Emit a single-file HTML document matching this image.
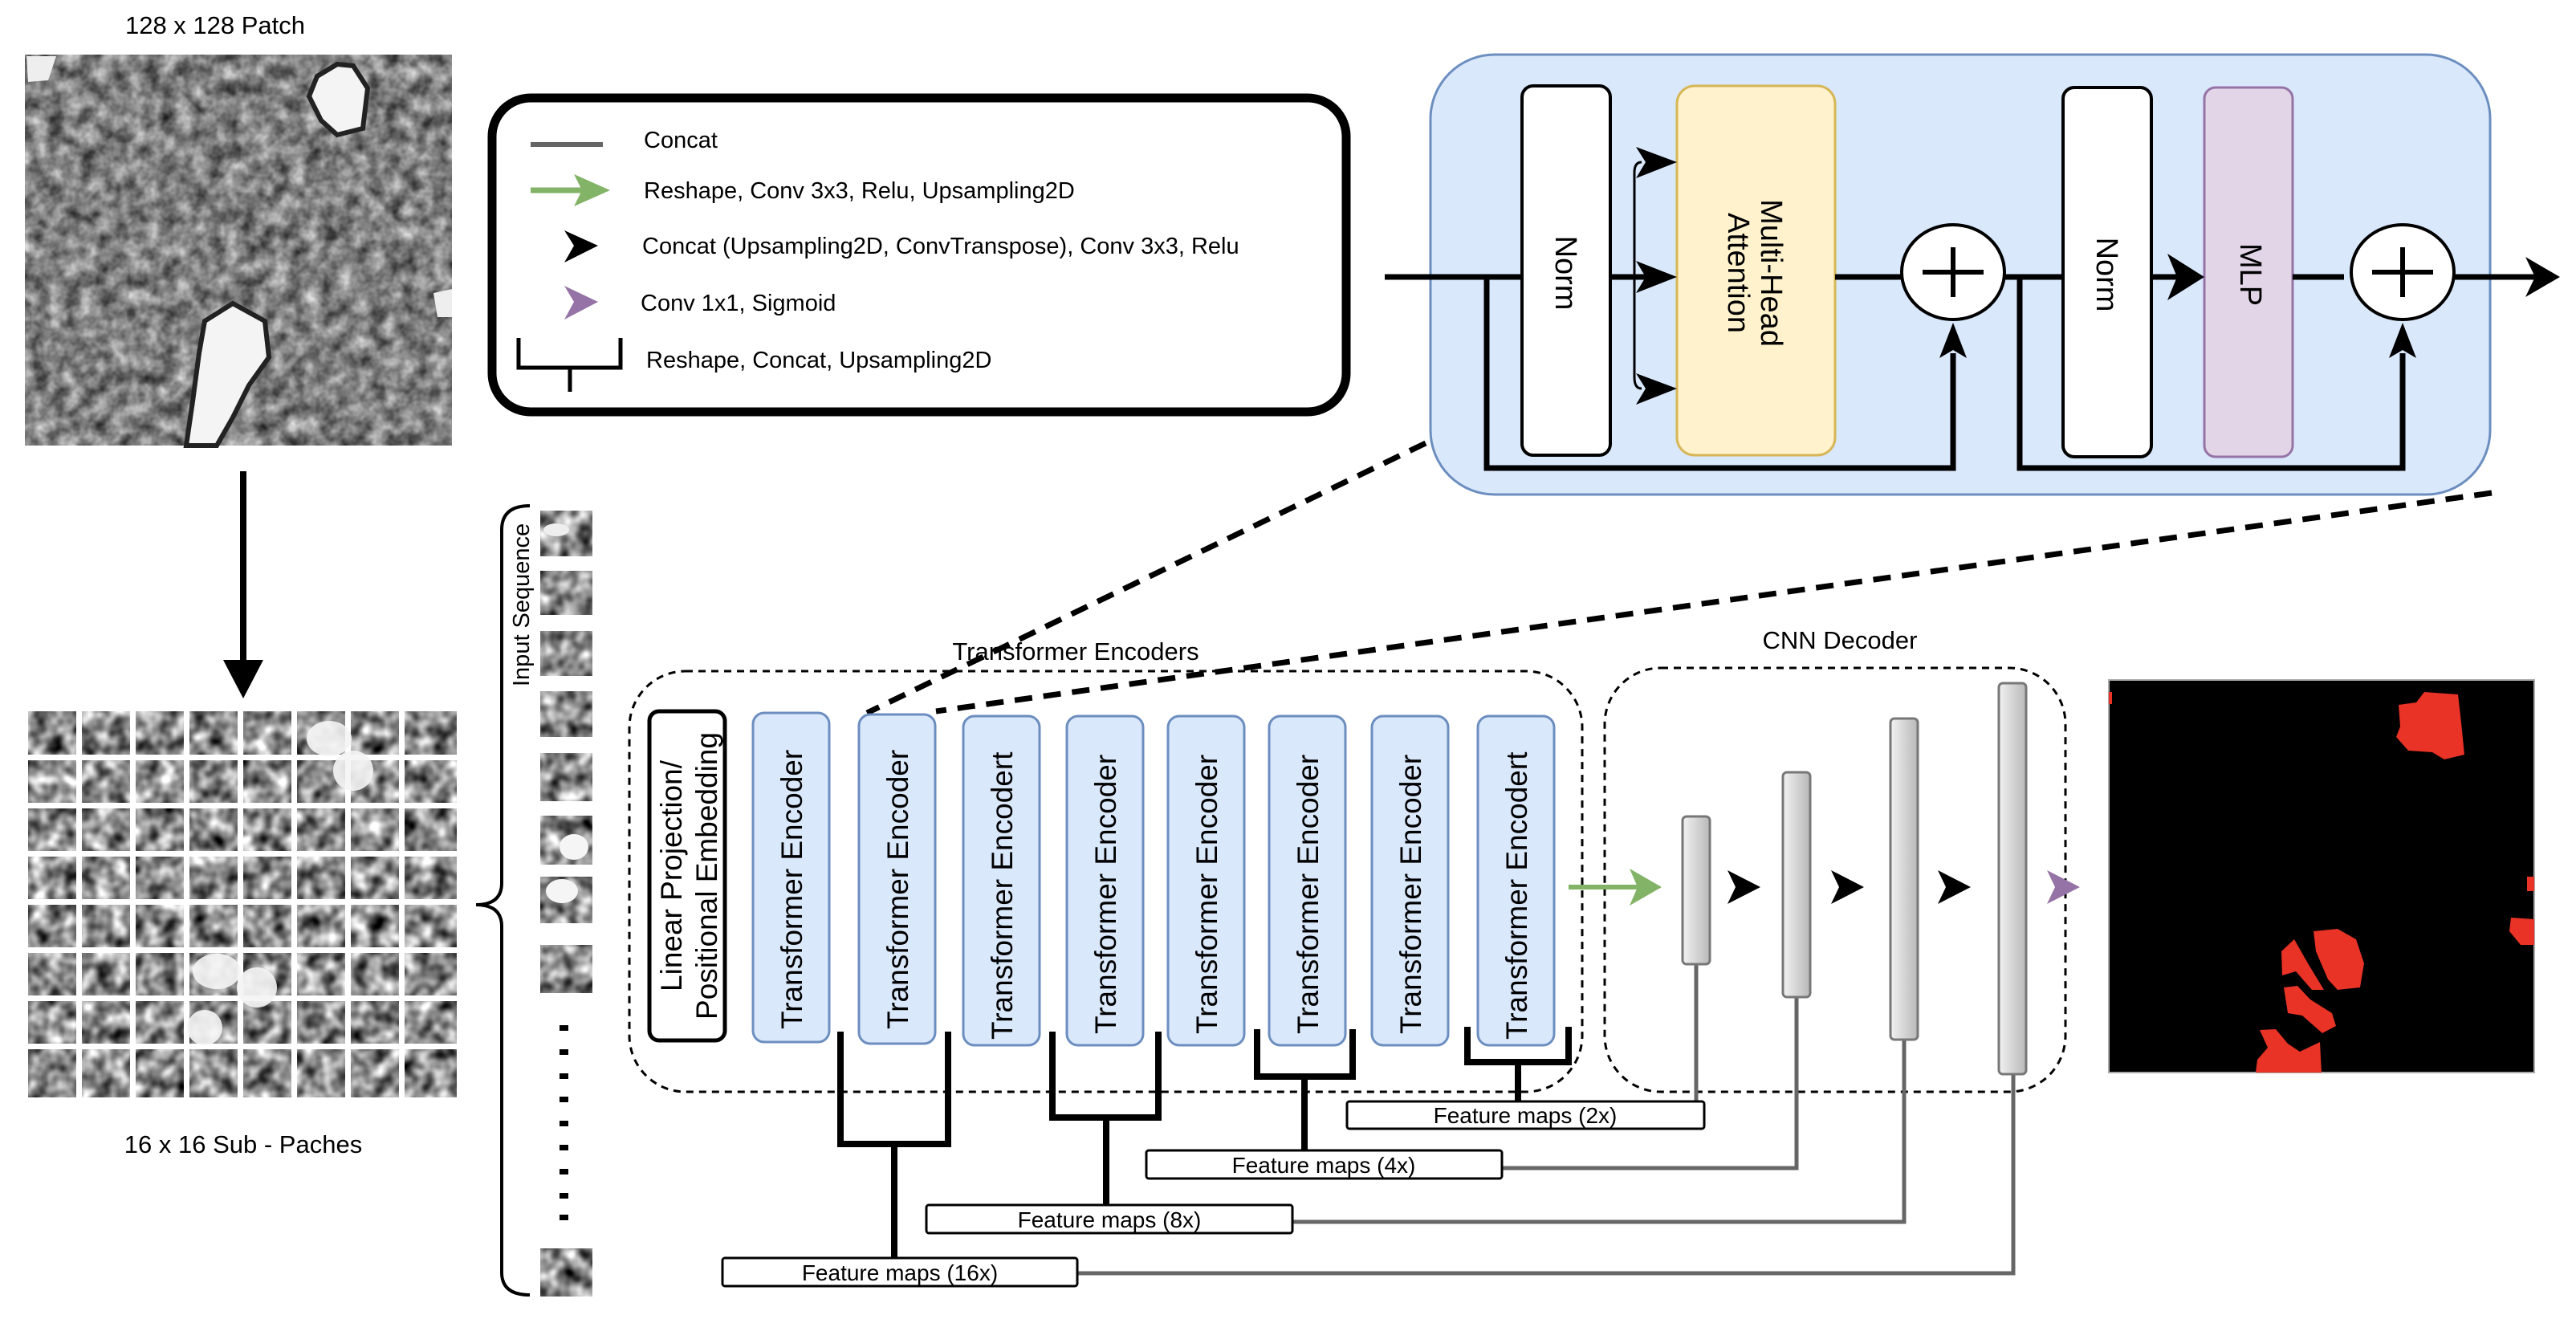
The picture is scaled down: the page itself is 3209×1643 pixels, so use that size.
<!DOCTYPE html>
<html><head><meta charset="utf-8"><style>
html,body{margin:0;padding:0;background:#fff}
svg{display:block}
text{font-family:"Liberation Sans",sans-serif}
</style></head><body>
<svg width="3209" height="1643" viewBox="0 0 3209 1643" xmlns="http://www.w3.org/2000/svg">
<defs>
<filter id="noise" x="0" y="0" width="100%" height="100%" filterUnits="objectBoundingBox" color-interpolation-filters="sRGB">
<feTurbulence type="fractalNoise" baseFrequency="0.05" numOctaves="3" seed="4"/>
<feColorMatrix type="matrix" values="0.9 0 0 0 0.05  0.9 0 0 0 0.05  0.9 0 0 0 0.05  0 0 0 0 1"/>
</filter>
<filter id="noise2" x="0" y="0" width="100%" height="100%" filterUnits="objectBoundingBox" color-interpolation-filters="sRGB">
<feTurbulence type="fractalNoise" baseFrequency="0.05" numOctaves="2" seed="9"/>
<feColorMatrix type="matrix" values="1.5 0 0 0 -0.2  1.5 0 0 0 -0.2  1.5 0 0 0 -0.2  0 0 0 0 1"/>
</filter>
<linearGradient id="bar" x1="0" x2="1" y1="0" y2="0">
<stop offset="0" stop-color="#f2f2f2"/><stop offset="1" stop-color="#b8b8b8"/>
</linearGradient>
</defs>

<text x="268" y="42" font-size="31" text-anchor="middle">128 x 128 Patch</text>
<rect x="31" y="68" width="532" height="487" filter="url(#noise)"/>
<path d="M395 95 L420 80 L440 82 L458 110 L452 160 L420 168 L400 150 L385 120Z" fill="#f4f4f4" stroke="#222" stroke-width="6"/>
<path d="M255 400 L290 378 L330 400 L335 445 L310 480 L290 520 L270 555 L232 555 L240 500 L248 440Z" fill="#f4f4f4" stroke="#222" stroke-width="6"/>
<path d="M33 70 L70 70 L60 100 L35 102Z" fill="#eee"/>
<path d="M540 365 L563 360 L563 395 L545 395Z" fill="#eee"/>

<line x1="303" y1="587" x2="303" y2="830" stroke="#000" stroke-width="8"/>
<polygon points="278,822 328,822 303,870" fill="#000"/>

<rect x="35" y="886" width="534" height="481" fill="#888" filter="url(#noise2)"/>
<g fill="#fff">
<rect x="95" y="886" width="7" height="481"/><rect x="162" y="886" width="7" height="481"/><rect x="229" y="886" width="7" height="481"/><rect x="296" y="886" width="7" height="481"/><rect x="363" y="886" width="7" height="481"/><rect x="430" y="886" width="7" height="481"/><rect x="497" y="886" width="7" height="481"/>
<rect x="35" y="940" width="534" height="7"/><rect x="35" y="1000" width="534" height="7"/><rect x="35" y="1060" width="534" height="7"/><rect x="35" y="1120" width="534" height="7"/><rect x="35" y="1180" width="534" height="7"/><rect x="35" y="1240" width="534" height="7"/><rect x="35" y="1300" width="534" height="7"/>
</g>
<g fill="#f5f5f5" opacity="0.9">
<ellipse cx="410" cy="920" rx="28" ry="22"/><ellipse cx="440" cy="960" rx="25" ry="25"/>
<ellipse cx="270" cy="1210" rx="30" ry="22"/><ellipse cx="320" cy="1230" rx="25" ry="25"/><ellipse cx="255" cy="1280" rx="22" ry="22"/>
</g>
<text x="303" y="1436" font-size="31" text-anchor="middle">16 x 16 Sub - Paches</text>

<path d="M660 630 Q625 630 625 660 L625 1100 Q625 1127 593 1127 Q625 1127 625 1154 L625 1585 Q625 1613 660 1613" fill="none" stroke="#000" stroke-width="4"/>
<text transform="translate(659,855) rotate(-90)" font-size="29">Input Sequence</text>
<rect x="673" y="636" width="65" height="57" fill="#888" filter="url(#noise2)"/>
<rect x="673" y="711" width="65" height="55" fill="#888" filter="url(#noise2)"/>
<rect x="673" y="786" width="65" height="56" fill="#888" filter="url(#noise2)"/>
<rect x="673" y="861" width="65" height="57" fill="#888" filter="url(#noise2)"/>
<rect x="673" y="938" width="65" height="60" fill="#888" filter="url(#noise2)"/>
<rect x="673" y="1016" width="65" height="61" fill="#888" filter="url(#noise2)"/>
<rect x="673" y="1092" width="65" height="58" fill="#888" filter="url(#noise2)"/>
<rect x="673" y="1177" width="65" height="60" fill="#888" filter="url(#noise2)"/>
<rect x="673" y="1555" width="65" height="60" fill="#888" filter="url(#noise2)"/>
<ellipse cx="715" cy="1055" rx="18" ry="16" fill="#f5f5f5"/><ellipse cx="700" cy="1110" rx="20" ry="15" fill="#f5f5f5"/><ellipse cx="693" cy="660" rx="16" ry="8" fill="#eee"/>
<g fill="#000">
<rect x="697" y="1277" width="11" height="7"/><rect x="697" y="1307" width="11" height="7"/><rect x="697" y="1337" width="11" height="7"/><rect x="697" y="1366" width="11" height="7"/><rect x="697" y="1396" width="11" height="7"/><rect x="697" y="1426" width="11" height="7"/><rect x="697" y="1456" width="11" height="7"/><rect x="697" y="1486" width="11" height="7"/><rect x="697" y="1513" width="11" height="7"/>
</g>

<rect x="613" y="122" width="1064" height="391" rx="48" fill="#fff" stroke="#000" stroke-width="11"/>
<line x1="661" y1="180" x2="751" y2="180" stroke="#666" stroke-width="6"/>
<text x="802" y="184" font-size="29">Concat</text>
<line x1="661" y1="237" x2="725" y2="237" stroke="#82b366" stroke-width="7"/>
<polygon points="715,217 760,237 715,257 725,237" fill="#82b366"/>
<text x="802" y="247" font-size="29">Reshape, Conv 3x3, Relu, Upsampling2D</text>
<polygon points="703,287 745,306 703,327 715,306" fill="#000"/>
<text x="800" y="316" font-size="29">Concat (Upsampling2D, ConvTranspose), Conv 3x3, Relu</text>
<polygon points="703,356 745,376 703,398 715,376" fill="#9673a6"/>
<text x="798" y="387" font-size="29">Conv 1x1, Sigmoid</text>
<path d="M646 421 L646 458 L773 458 L773 421 M710 458 L710 488" fill="none" stroke="#000" stroke-width="5"/>
<text x="805" y="458" font-size="29">Reshape, Concat, Upsampling2D</text>

<rect x="1782" y="68" width="1320" height="548" rx="80" fill="#dae8fc" stroke="#6c8ebf" stroke-width="3"/>
<rect x="1896" y="107" width="110" height="460" rx="14" fill="#fff" stroke="#000" stroke-width="4"/>
<rect x="2089" y="107" width="197" height="460" rx="22" fill="#fff2cc" stroke="#d6b656" stroke-width="3"/>
<rect x="2570" y="109" width="110" height="460" rx="14" fill="#fff" stroke="#000" stroke-width="4"/>
<rect x="2746" y="109" width="110" height="460" rx="14" fill="#e1d5e7" stroke="#9673a6" stroke-width="3"/>
<text transform="translate(1938,340) rotate(90)" font-size="38" text-anchor="middle">Norm</text>
<text transform="translate(2612,342) rotate(90)" font-size="38" text-anchor="middle">Norm</text>
<text transform="translate(2791,342) rotate(90)" font-size="38" text-anchor="middle">MLP</text>
<text transform="translate(2194,340) rotate(90)" font-size="38" text-anchor="middle">Multi-Head</text>
<text transform="translate(2153,340) rotate(90)" font-size="38" text-anchor="middle">Attention</text>
<g stroke="#000" stroke-width="7" fill="none">
<line x1="1725" y1="345" x2="1896" y2="345"/>
<line x1="2006" y1="345" x2="2060" y2="345"/>
<line x1="2286" y1="345" x2="2369" y2="345"/>
<line x1="2497" y1="345" x2="2570" y2="345"/>
<line x1="2680" y1="345" x2="2720" y2="345"/>
<line x1="2856" y1="345" x2="2920" y2="345"/>
<line x1="3046" y1="345" x2="3160" y2="345"/>
<path d="M1852 345 L1852 583 L2433 583 L2433 440"/>
<path d="M2516 345 L2516 583 L2993 583 L2993 440"/>
</g>
<path d="M2045 202 Q2036 202 2036 215 L2036 470 Q2036 484 2045 484" fill="none" stroke="#000" stroke-width="3"/>
<g fill="#000">
<polygon points="2038,183 2089,202 2038,222 2050,202"/>
<polygon points="2038,325 2089,345 2038,365 2050,345"/>
<polygon points="2038,465 2089,484 2038,504 2050,484"/>
<polygon points="2700,316 2746,345 2700,374 2712,345"/>
<polygon points="3146,320 3189,345 3146,370 3158,345"/>
<polygon points="2416,446 2433,402 2450,446 2433,436"/>
<polygon points="2976,446 2993,402 3010,446 2993,436"/>
</g>
<ellipse cx="2433" cy="339" rx="64" ry="59" fill="#fff" stroke="#000" stroke-width="4"/>
<ellipse cx="2993" cy="339" rx="64" ry="59" fill="#fff" stroke="#000" stroke-width="4"/>
<path d="M2395 339 L2471 339 M2433 308 L2433 370 M2955 339 L3031 339 M2993 308 L2993 370" stroke="#000" stroke-width="6"/>

<line x1="1776" y1="552" x2="1080" y2="888" stroke="#000" stroke-width="7" stroke-dasharray="22 14"/>
<line x1="3104" y1="614" x2="1166" y2="886" stroke="#000" stroke-width="7" stroke-dasharray="22 14"/>

<text x="1340" y="822" font-size="31" text-anchor="middle">Transformer Encoders</text>
<rect x="784" y="836" width="1187" height="524" rx="70" fill="none" stroke="#000" stroke-width="3" stroke-dasharray="9 7"/>
<rect x="809" y="886" width="94" height="410" rx="12" fill="#fff" stroke="#000" stroke-width="5"/>
<text transform="translate(849,1091) rotate(-90)" font-size="37" text-anchor="middle">Linear Projection/</text>
<text transform="translate(893,1091) rotate(-90)" font-size="37" text-anchor="middle">Positional Embedding</text>
<g fill="#dae8fc" stroke="#6c8ebf" stroke-width="3">
<rect x="938" y="888" width="95" height="410" rx="14"/>
<rect x="1070" y="890" width="95" height="410" rx="14"/>
<rect x="1200" y="892" width="95" height="410" rx="14"/>
<rect x="1329" y="892" width="95" height="410" rx="14"/>
<rect x="1455" y="892" width="95" height="410" rx="14"/>
<rect x="1581" y="892" width="95" height="410" rx="14"/>
<rect x="1709" y="892" width="95" height="410" rx="14"/>
<rect x="1841" y="892" width="95" height="410" rx="14"/>
</g>
<g font-size="37">
<text transform="translate(999,1282) rotate(-90)">Transformer Encoder</text>
<text transform="translate(1131,1282) rotate(-90)">Transformer Encoder</text>
<text transform="translate(1261,1295) rotate(-90)">Transformer Encodert</text>
<text transform="translate(1390,1288) rotate(-90)">Transformer Encoder</text>
<text transform="translate(1516,1288) rotate(-90)">Transformer Encoder</text>
<text transform="translate(1642,1288) rotate(-90)">Transformer Encoder</text>
<text transform="translate(1770,1288) rotate(-90)">Transformer Encoder</text>
<text transform="translate(1902,1295) rotate(-90)">Transformer Encodert</text>
</g>
<g stroke="#000" stroke-width="8" fill="none">
<path d="M1047 1285 L1047 1425 L1181 1425 L1181 1285 M1114 1425 L1114 1567"/>
<path d="M1311 1285 L1311 1392 L1443 1392 L1443 1285 M1378 1392 L1378 1501"/>
<path d="M1566 1282 L1566 1341 L1685 1341 L1685 1282 M1625 1341 L1625 1433"/>
<path d="M1828 1279 L1828 1323 L1954 1323 L1954 1279 M1891 1323 L1891 1372"/>
</g>

<text x="2292" y="808" font-size="31" text-anchor="middle">CNN Decoder</text>
<rect x="1999" y="832" width="574" height="528" rx="70" fill="none" stroke="#000" stroke-width="3" stroke-dasharray="9 7"/>
<g stroke="#666" stroke-width="5" fill="none">
<path d="M2113 1201 L2113 1372"/>
<path d="M1871 1455 L2238 1455 L2238 1242"/>
<path d="M1610 1522 L2372 1522 L2372 1295"/>
<path d="M1342 1586 L2508 1586 L2508 1338"/>
</g>
<g fill="url(#bar)" stroke="#777" stroke-width="3">
<rect x="2096" y="1017" width="34" height="184" rx="5"/>
<rect x="2221" y="962" width="34" height="280" rx="5"/>
<rect x="2355" y="895" width="34" height="400" rx="5"/>
<rect x="2490" y="851" width="34" height="487" rx="5"/>
</g>
<line x1="1954" y1="1105" x2="2040" y2="1105" stroke="#82b366" stroke-width="6"/>
<polygon points="2030,1082 2070,1105 2030,1128 2040,1105" fill="#82b366"/>
<g fill="#000">
<polygon points="2152,1084 2193,1105 2152,1126 2162,1105"/>
<polygon points="2281,1084 2322,1105 2281,1126 2291,1105"/>
<polygon points="2414,1084 2455,1105 2414,1126 2424,1105"/>
</g>
<polygon points="2550,1084 2591,1105 2550,1126 2560,1105" fill="#9673a6"/>

<g fill="#fff" stroke="#000" stroke-width="3">
<rect x="1678" y="1372" width="445" height="34" rx="3"/>
<rect x="1428" y="1433" width="443" height="35" rx="3"/>
<rect x="1154" y="1501" width="456" height="35" rx="3"/>
<rect x="900" y="1567" width="442" height="35" rx="3"/>
</g>
<g font-size="28" text-anchor="middle">
<text x="1900" y="1399">Feature maps (2x)</text>
<text x="1649" y="1461">Feature maps (4x)</text>
<text x="1382" y="1529">Feature maps (8x)</text>
<text x="1121" y="1595">Feature maps (16x)</text>
</g>

<rect x="2627" y="847" width="530" height="489" fill="#000" stroke="#aaa" stroke-width="2"/>
<g fill="#e83326">
<path d="M3020 862 L3062 865 L3066 900 L3070 940 L3045 946 L3030 937 L3000 935 L2985 918 L2990 905 L2988 878 L3010 875Z"/>
<path d="M2882 1160 L2912 1157 L2935 1170 L2945 1200 L2940 1230 L2912 1233 L2900 1220 L2885 1185Z"/>
<path d="M2842 1185 L2858 1170 L2875 1200 L2895 1233 L2880 1233 L2860 1210 L2843 1215Z"/>
<path d="M2845 1230 L2862 1228 L2878 1245 L2905 1262 L2910 1278 L2893 1287 L2868 1265 L2850 1262Z"/>
<path d="M2815 1283 L2835 1282 L2850 1300 L2865 1310 L2890 1298 L2892 1336 L2810 1336 L2812 1320 L2825 1305Z"/>
<path d="M3128 1143 L3157 1145 L3157 1177 L3140 1177 L3126 1160Z"/>
<rect x="3148" y="1092" width="9" height="18"/>
<rect x="2627" y="862" width="4" height="15"/>
</g>
</svg>
</body></html>
